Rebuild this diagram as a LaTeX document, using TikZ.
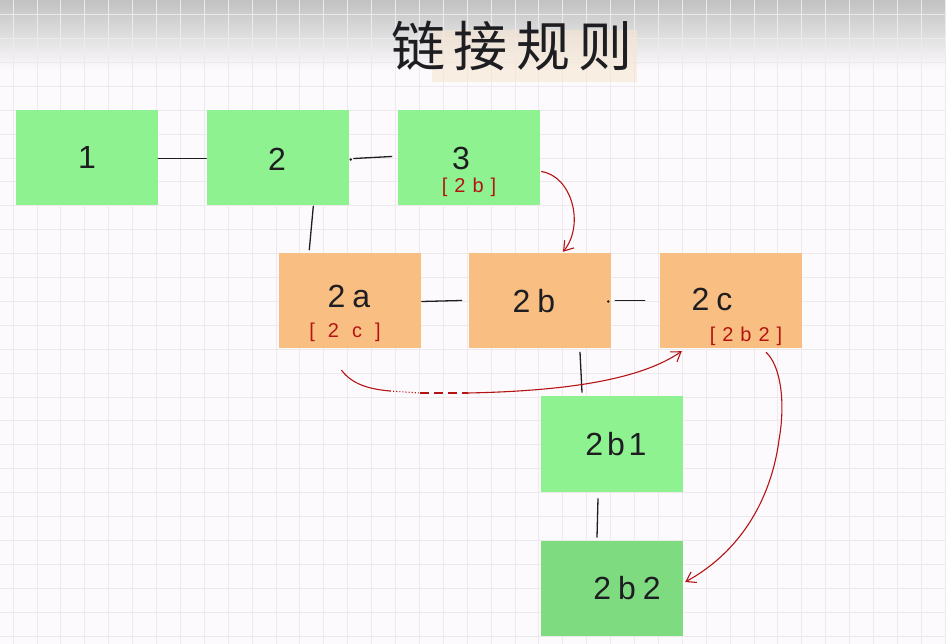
\documentclass[tikz,border=0pt]{standalone}
\usepackage{fontspec}
\setmainfont{Liberation Sans}
\newfontfamily\cjkfont{Noto Sans CJK SC}
\usetikzlibrary{arrows.meta,positioning}
\definecolor{bgc}{HTML}{FCFAFC}
\definecolor{gridc}{HTML}{EDE9ED}
\definecolor{boxgreen}{HTML}{8EF290}
\definecolor{boxgreenb}{HTML}{7EDB80}
\definecolor{boxorange}{HTML}{F9BE82}
\definecolor{penred}{HTML}{B41414}
\definecolor{pen}{HTML}{1E1E22}
\definecolor{hilite}{HTML}{F7E6D2}
\tikzset{
  gbox/.style={rectangle, fill=boxgreen, minimum width=142pt, minimum height=95pt, inner sep=0pt},
  obox/.style={rectangle, fill=boxorange, minimum width=142pt, minimum height=95pt, inner sep=0pt},
  ltxt/.style={text=pen, font=\fontsize{32}{34}\selectfont\addfontfeature{LetterSpace=22}, inner sep=0pt},
  rtxt/.style={text=penred, font=\fontsize{20}{22}\selectfont, inner sep=0pt},
  link/.style={draw=pen, line width=1.3pt, line cap=round},
  redarrow/.style={draw=penred, line width=1.1pt, -{Straight Barb[length=9pt,width=12pt]}},
  redline/.style={draw=penred, line width=1.1pt}
}
\begin{document}
\begin{tikzpicture}[x=1pt,y=-1pt]
\useasboundingbox (0,0) rectangle (946,644);
% background, shading, grid
\fill[bgc] (0,0) rectangle (946,644);
\shade[top color=black!24, bottom color=bgc] (0,0) rectangle (946,70);
\foreach \i in {0,...,39} {\draw[gridc, line width=0.7pt] (13+23.9*\i,0) -- (13+23.9*\i,644);}
\foreach \j in {0,...,27} {\draw[gridc, line width=0.7pt] (0,14.5+23.9*\j) -- (946,14.5+23.9*\j);}
% title
\fill[hilite, opacity=0.6] (432,30) rectangle (637,82);
\node[text=pen, font=\cjkfont\fontsize{54}{56}\selectfont\addfontfeature{LetterSpace=16}, inner sep=0pt] (title) at (512,46) {链接规则};
% boxes
\node[gbox] (n1) at (87,157.5) {};
\node[gbox] (n2) at (277.5,157.5) {};
\node[gbox] (n3) at (469,157.5) {};
\node[obox] (n2a) at (349.5,300.5) {};
\node[obox] (n2b) at (540,300.5) {};
\node[obox] (n2c) at (731,300.5) {};
\node[gbox] (n2b1) at (612,444) {};
\node[gbox, fill=boxgreenb] (n2b2) at (612,588) {};
% texts
\node[ltxt] (t1) at (87,157) {1};
\node[ltxt] (t2) at (277,159) {2};
\node[ltxt] (t3) at (461,158) {3};
\node[rtxt, font=\fontsize{20}{22}\selectfont\addfontfeature{LetterSpace=35}] (r3) at (469,187) {[2b]};
\node[ltxt] (t2a) at (349,296) {2a};
\node[rtxt, font=\fontsize{20}{22}\selectfont\addfontfeature{LetterSpace=65}] (r2a) at (345,332) {[2c]};
\node[ltxt] (t2b) at (534,301) {2b};
\node[ltxt] (t2c) at (712,299) {2c};
\node[rtxt, font=\fontsize{20}{22}\selectfont\addfontfeature{LetterSpace=35}] (r2c) at (746,336) {[2b2]};
\node[ltxt, font=\fontsize{32}{34}\selectfont\addfontfeature{LetterSpace=12}] (t2b1) at (616,444) {2b1};
\node[ltxt] (t2b2) at (627,588) {2b2};
% black links
\draw[link] ([yshift=-1pt]n1.east) -- ([yshift=-1pt]n2.west);
\draw[link] ([xshift=5pt,yshift=-1pt]n2.east) -- ([xshift=-6pt,yshift=1pt]n3.west);
\fill[pen] ([xshift=2pt,yshift=-2pt]n2.east) circle (1.3);
\draw[link] ([xshift=31pt,yshift=3pt]n2a.north west) -- ([xshift=107pt,yshift=-1pt]n2.south west);
\draw[link] ([xshift=1pt,yshift=-1pt]n2a.east) -- ([xshift=-7pt]n2b.west);
\draw[link] ([xshift=4pt]n2b.east) -- ([xshift=-15pt]n2c.west);
\fill[pen] ([xshift=-3pt,yshift=-1pt]n2b.east) circle (1.3);
\draw[link] ([xshift=40pt,yshift=-4pt]n2b.south) -- ([xshift=-30pt,yshift=4pt]n2b1.north);
\draw[link] ([xshift=-14pt,yshift=-7pt]n2b1.south) -- ([xshift=-15pt,yshift=3pt]n2b2.north);
% red arrows
\draw[redarrow] ([xshift=1pt,yshift=-14pt]n3.east) .. controls (572,176) and (585,225) .. ([xshift=23pt,yshift=1pt]n2b.north);
\coordinate (s1) at ([xshift=-8pt,yshift=-22pt]n2a.south);
\coordinate (s2) at (390,391);
\coordinate (s3) at (420,393);
\coordinate (s4) at (468,393);
\draw[redline] (s1) .. controls (352,384) and (368,389) .. (s2);
\draw[redline, dotted] (s2) -- (s3);
\draw[redline, dash pattern=on 9pt off 5pt] (s3) -- (s4);
\draw[redarrow] (s4) .. controls (565,391) and (640,380) .. ([xshift=22pt,yshift=-3pt]n2c.south west);
\coordinate (c1) at (779,440);
\draw[redline] ([xshift=35pt,yshift=-4pt]n2c.south) .. controls (780,365) and (786,400) .. (c1);
\draw[redarrow] (c1) .. controls (771,500) and (740,552) .. ([xshift=2pt,yshift=6pt]n2b2.east);
\end{tikzpicture}
\end{document}
